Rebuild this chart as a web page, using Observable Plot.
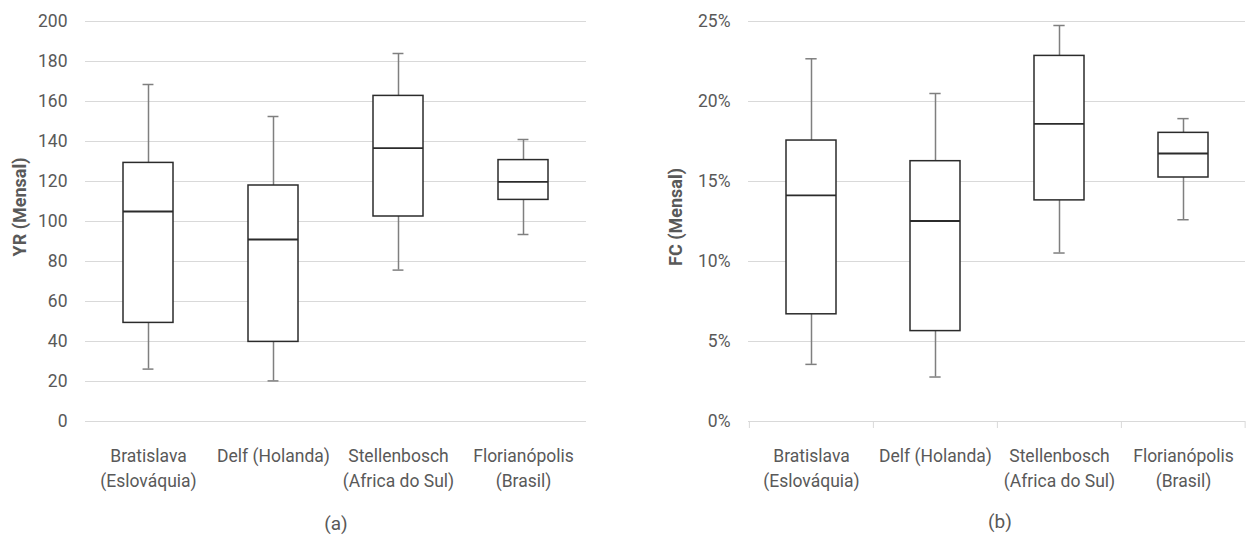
<!DOCTYPE html>
<html>
<head>
<meta charset="utf-8">
<script src="https://cdn.jsdelivr.net/npm/d3@7"></script>
<script src="https://cdn.jsdelivr.net/npm/@observablehq/plot@0.6"></script>
<style>
  html, body { margin: 0; padding: 0; background: #fff; }
  #wrap { position: relative; width: 1247px; height: 536px; overflow: hidden; font-family: Roboto, sans-serif; color: #595959; }
  .panel { position: absolute; top: 0; }
  .ytitle { position: absolute; transform: translate(-50%, -50%) rotate(-90deg); white-space: nowrap; font-family: Roboto, sans-serif; font-weight: bold; font-size: 18px; color: #595959; }
  .cap { position: absolute; transform: translate(-50%, -50%); font-size: 19px; color: #595959; white-space: nowrap; }
</style>
</head>
<body>
<div id="wrap">
  <div id="a" class="panel" style="left:0px"></div>
  <div id="b" class="panel" style="left:620px"></div>
  <div class="ytitle" style="left:19px; top:207px">YR (Mensal)</div>
  <div class="ytitle" style="left:675px; top:217px">FC (Mensal)</div>
  <div class="cap" style="left:336px; top:523px">(a)</div>
  <div class="cap" style="left:1000px; top:521px">(b)</div>
</div>
<script>
// Categories and tick labels
const categories = ["Bratislava (Eslováquia)", "Delf (Holanda)", "Stellenbosch (Africa do Sul)", "Florianópolis (Brasil)"];
const tickLabels = ["Bratislava\n(Eslováquia)", "Delf (Holanda)", "Stellenbosch\n(Africa do Sul)", "Florianópolis\n(Brasil)"];

// (a) YR (Mensal)
const yrMin = [26.2, 20.3, 75.7, 93.5];
const yrQ1  = [49.3, 39.8, 102.5, 110.8];
const yrMed = [105.0, 91.0, 136.7, 119.8];
const yrQ3  = [129.3, 118.0, 162.8, 130.7];
const yrMax = [168.5, 152.5, 184.0, 141.0];
const yrTicks = [0, 20, 40, 60, 80, 100, 120, 140, 160, 180, 200];

// (b) FC (Mensal)
const fcMin = [0.0357, 0.0278, 0.1053, 0.1261];
const fcQ1  = [0.0670, 0.0565, 0.1382, 0.1525];
const fcMed = [0.1413, 0.1253, 0.1860, 0.1675];
const fcQ3  = [0.1756, 0.1627, 0.2285, 0.1804];
const fcMax = [0.2267, 0.2050, 0.2475, 0.1893];
const fcTicks = [0, 0.05, 0.10, 0.15, 0.20, 0.25];

const FONT = 'Roboto, sans-serif';
const TXT = "#595959";
const GRID = "#d9d9d9";
const BOX = "#2b2b2b";
const WHISK = "#7f7f7f";
const FS = 17.5;

function rows(mn, q1, md, q3, mx) {
  return categories.map((c, i) => ({cat: c, min: mn[i], q1: q1[i], med: md[i], q3: q3[i], max: mx[i]}));
}

function boxplot({data, width, marginLeft, marginRight, domain, ticks, tickFormat, separators}) {
  const height = 500, marginTop = 21, marginBottom = 79;
  const plotW = width - marginLeft - marginRight;
  const step = plotW / (categories.length - 0.6 + 0.6);
  const bw = step * 0.4;
  const capInset = (bw - 11) / 2;
  const marks = [
    Plot.gridY(ticks, {stroke: GRID, strokeOpacity: 1, strokeWidth: 1}),
    Plot.axisY({ticks, tickSize: 0, tickPadding: 18, tickFormat, fontSize: FS, fill: TXT, label: null}),
    Plot.axisX({tickSize: 0, tickPadding: 22, fontSize: FS, fill: TXT, lineHeight: 1.45, label: null,
      tickFormat: d => tickLabels[categories.indexOf(d)]}),
  ];
  if (separators) {
    marks.push(Plot.ruleX(categories, {x: d => d, dx: -step / 2, insetTop: height - marginTop - marginBottom, insetBottom: -7, stroke: GRID, strokeWidth: 1}));
    marks.push(Plot.ruleX(categories.slice(-1), {x: d => d, dx: step / 2 - 0.5, insetTop: height - marginTop - marginBottom, insetBottom: -7, stroke: GRID, strokeWidth: 1}));
  }
  marks.push(
    Plot.ruleX(data, {x: "cat", y1: "q3", y2: "max", stroke: WHISK, strokeWidth: 1.5}),
    Plot.ruleX(data, {x: "cat", y1: "min", y2: "q1", stroke: WHISK, strokeWidth: 1.5}),
    Plot.tickY(data, {x: "cat", y: "max", stroke: WHISK, strokeWidth: 1.5, insetLeft: capInset, insetRight: capInset}),
    Plot.tickY(data, {x: "cat", y: "min", stroke: WHISK, strokeWidth: 1.5, insetLeft: capInset, insetRight: capInset}),
    Plot.barY(data, {x: "cat", y1: "q1", y2: "q3", fill: "white", stroke: BOX, strokeWidth: 1.5}),
    Plot.tickY(data, {x: "cat", y: "med", stroke: BOX, strokeWidth: 1.8})
  );
  return Plot.plot({
    width, height, marginTop, marginBottom, marginLeft, marginRight,
    style: {fontFamily: FONT, background: "transparent", color: TXT, overflow: "visible"},
    x: {type: "band", domain: categories, paddingInner: 0.6, paddingOuter: 0.3},
    y: {domain, range: [height - marginBottom, marginTop]},
    marks
  });
}

document.getElementById("a").appendChild(boxplot({
  data: rows(yrMin, yrQ1, yrMed, yrQ3, yrMax),
  width: 600, marginLeft: 85, marginRight: 14,
  domain: [0, 200], ticks: yrTicks, tickFormat: d => String(d), separators: false
}));

document.getElementById("b").appendChild(boxplot({
  data: rows(fcMin, fcQ1, fcMed, fcQ3, fcMax),
  width: 627, marginLeft: 128, marginRight: 2,
  domain: [0, 0.25], ticks: fcTicks, tickFormat: d => Math.round(d * 100) + "%", separators: true
}));
</script>
</body>
</html>
